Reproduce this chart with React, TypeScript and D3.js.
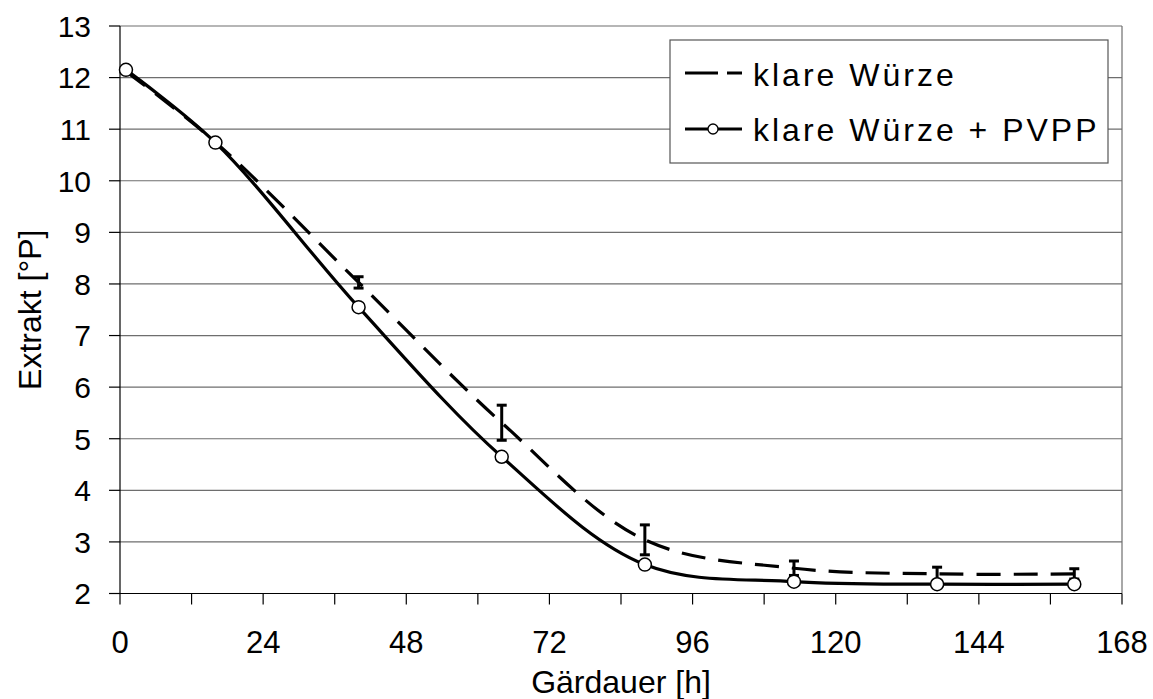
import React from "react";
import * as d3 from "d3";

const hours = [1, 16, 40, 64, 88, 113, 137, 160];
const klareWuerze = [12.12, 10.75, 8.03, 5.31, 3.04, 2.49, 2.38, 2.38];
const klareWuerzeErr = [0, 0, 0.11, 0.34, 0.29, 0.14, 0.13, 0.1];
const klareWuerzePVPP = [12.15, 10.74, 7.55, 4.65, 2.56, 2.23, 2.18, 2.18];
const xTicks = [0, 24, 48, 72, 96, 120, 144, 168];
const xMinorTicks = [12, 36, 60, 84, 108, 132, 156];
const yTicks = [2, 3, 4, 5, 6, 7, 8, 9, 10, 11, 12, 13];
const seriesNames = ["klare Würze", "klare Würze + PVPP"];

const W = 1153;
const H = 699;
const FONT = "'Liberation Sans', Arial, Helvetica, sans-serif";

export default function App() {
  const x = d3.scaleLinear().domain([0, 168]).range([120, 1122]);
  const y = d3.scaleLinear().domain([2, 13]).range([593.5, 26]);

  const dashedPts = hours.map((h, i) => [h, klareWuerze[i]] as [number, number]);
  const solidPts = hours.map((h, i) => [h, klareWuerzePVPP[i]] as [number, number]);

  const line = d3
    .line<[number, number]>()
    .x((d) => x(d[0]))
    .y((d) => y(d[1]))
    .curve(d3.curveCatmullRom.alpha(0.5));

  const plotL = x(0);
  const plotR = x(168);
  const plotT = y(13);
  const plotB = y(2);

  const lg = { x: 670, y: 40, w: 438, h: 123 };

  return (
    <svg
      width={W}
      height={H}
      viewBox={`0 0 ${W} ${H}`}
      style={{ position: "absolute", left: 0, top: 0, background: "#fff" }}
      fontFamily={FONT}
    >
      <rect x={0} y={0} width={W} height={H} fill="#fff" />
      {yTicks
        .filter((t) => t > 2)
        .map((t) => (
          <line key={"g" + t} x1={plotL} x2={plotR} y1={y(t)} y2={y(t)} stroke="#6e6e6e" strokeWidth={1.2} />
        ))}
      <line x1={plotR} x2={plotR} y1={plotT} y2={plotB} stroke="#6e6e6e" strokeWidth={1.2} />

      <line x1={plotL} x2={plotL} y1={plotT} y2={plotB} stroke="#000" strokeWidth={1.2} />
      <line x1={plotL} x2={plotR} y1={plotB} y2={plotB} stroke="#000" strokeWidth={1.2} />
      {yTicks.map((t) => (
        <line key={"yt" + t} x1={plotL - 11} x2={plotL} y1={y(t)} y2={y(t)} stroke="#000" strokeWidth={1.2} />
      ))}
      {[...xTicks, ...xMinorTicks].map((t) => (
        <line key={"xt" + t} x1={x(t)} x2={x(t)} y1={plotB} y2={plotB + 11} stroke="#000" strokeWidth={1.2} />
      ))}
      {yTicks.map((t) => (
        <text key={"yl" + t} x={91} y={y(t)} dy="0.36em" textAnchor="end" fontSize={30} fill="#000">
          {t}
        </text>
      ))}
      {xTicks.map((t) => (
        <text key={"xl" + t} x={x(t)} y={653} textAnchor="middle" fontSize={31} fill="#000">
          {t}
        </text>
      ))}
      <text x={(plotL + plotR) / 2} y={693} textAnchor="middle" fontSize={32} fill="#000">
        Gärdauer [h]
      </text>
      <text
        transform={`translate(41, ${(plotT + plotB) / 2}) rotate(-90)`}
        textAnchor="middle"
        fontSize={32}
        fill="#000"
      >
        Extrakt [°P]
      </text>

      <path d={line(dashedPts) || ""} fill="none" stroke="#000" strokeWidth={3.2} strokeDasharray="24 13" />
      {hours.map((h, i) =>
        klareWuerzeErr[i] > 0 ? (
          <g key={"e" + i} stroke="#000" strokeWidth={3}>
            <line x1={x(h)} x2={x(h)} y1={y(klareWuerze[i] + klareWuerzeErr[i])} y2={y(klareWuerze[i] - klareWuerzeErr[i])} />
            <line x1={x(h) - 5} x2={x(h) + 5} y1={y(klareWuerze[i] + klareWuerzeErr[i])} y2={y(klareWuerze[i] + klareWuerzeErr[i])} />
            <line x1={x(h) - 5} x2={x(h) + 5} y1={y(klareWuerze[i] - klareWuerzeErr[i])} y2={y(klareWuerze[i] - klareWuerzeErr[i])} />
          </g>
        ) : null
      )}
      <path d={line(solidPts) || ""} fill="none" stroke="#000" strokeWidth={3.2} />
      {solidPts.map((p, i) => (
        <circle key={"c" + i} cx={x(p[0])} cy={y(p[1])} r={6.5} fill="#fff" stroke="#000" strokeWidth={1.5} />
      ))}

      <rect x={lg.x} y={lg.y} width={lg.w} height={lg.h} fill="#fff" stroke="#555" strokeWidth={1.2} />
      <line x1={685} x2={742} y1={73} y2={73} stroke="#000" strokeWidth={3.2} strokeDasharray="33 9 15 100" />
      <text x={753} y={86} fontSize={32} letterSpacing={3} fill="#000">
        {seriesNames[0]}
      </text>
      <line x1={685} x2={742} y1={129} y2={129} stroke="#000" strokeWidth={3.2} />
      <circle cx={713} cy={129} r={5} fill="#fff" stroke="#000" strokeWidth={1.3} />
      <text x={753} y={141} fontSize={32} letterSpacing={3} fill="#000">
        {seriesNames[1]}
      </text>
    </svg>
  );
}
